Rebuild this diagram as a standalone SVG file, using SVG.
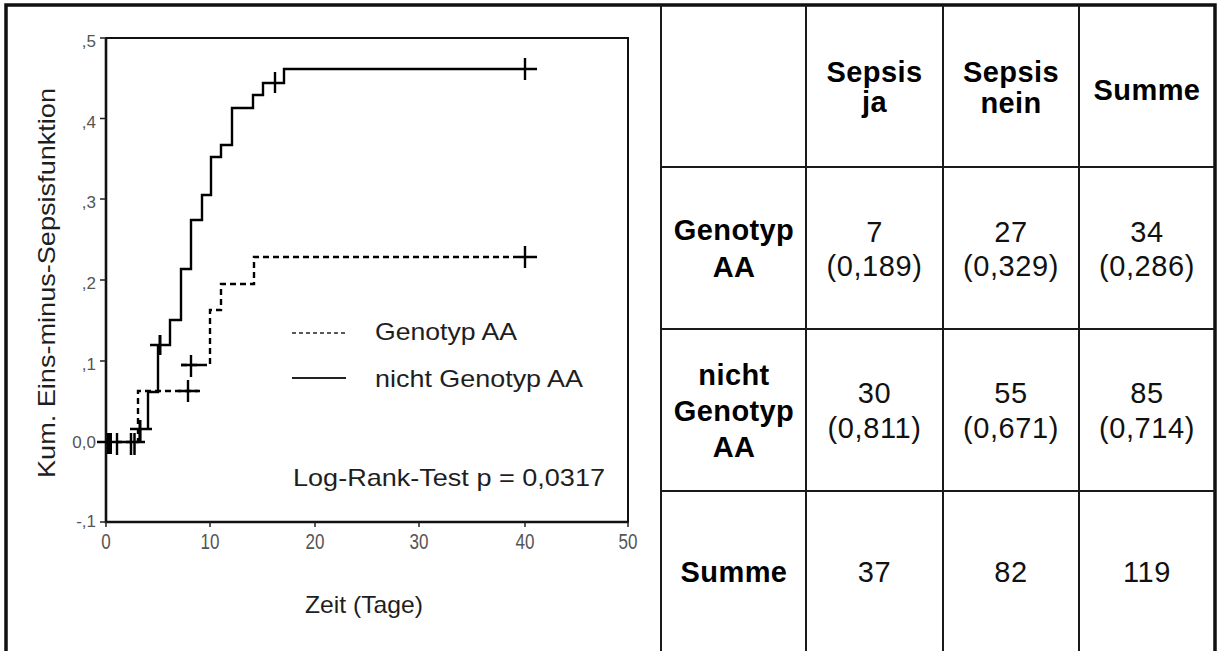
<svg xmlns="http://www.w3.org/2000/svg" width="1217" height="651" viewBox="0 0 1217 651">
<style>
  .plt { font-family: "Liberation Sans", Arial, sans-serif; fill: #1e1e1e; }
  .tick { font-family: "Liberation Sans", Arial, sans-serif; fill: #555; font-size: 17px; }
  .hd { font-family: "Liberation Sans", Arial, sans-serif; font-weight: bold; font-size: 29px; letter-spacing: 0.4px; fill: #000; text-anchor: middle; }
  .num { font-family: "Liberation Sans", Arial, sans-serif; font-size: 29px; letter-spacing: 0.6px; fill: #111; text-anchor: middle; }
  .grid { stroke: #1a1a1a; stroke-width: 2; fill: none; }
  .solid { stroke: #000; stroke-width: 2.4; fill: none; }
  .dash { stroke: #000; stroke-width: 2.4; fill: none; stroke-dasharray: 6 4; }
  .cens { stroke: #000; stroke-width: 2.4; fill: none; }
</style>
<rect width="1217" height="651" fill="#fff"/>

<g id="frame">
  <path d="M6,651 V5 H1215 V651" fill="none" stroke="#111" stroke-width="3.5"/>
</g>

<g id="plot">
  <rect x="106" y="38" width="522" height="484" fill="none" stroke="#111" stroke-width="2"/>
  <path d="M106,38 V522 H628" fill="none" stroke="#111" stroke-width="2.6"/>
  <g stroke="#222" stroke-width="1.5">
    <path d="M100,38 H106 M100,118.5 H106 M100,199 H106 M100,280 H106 M100,361 H106 M97,442 H106 M100,522 H106"/>
    <path d="M106,522 V527 M210,522 V527 M315,522 V527 M419,522 V527 M525,522 V527 M628,522 V527"/>
  </g>
  <g class="tick" text-anchor="end">
    <text x="96" y="47">,5</text>
    <text x="96" y="128">,4</text>
    <text x="96" y="208">,3</text>
    <text x="96" y="289">,2</text>
    <text x="96" y="370">,1</text>
    <text x="96" y="448">0,0</text>
    <text x="96" y="527">-,1</text>
  </g>
  <g class="tick" text-anchor="middle">
    <text transform="translate(106,549) scale(1,1.25)">0</text>
    <text transform="translate(210,549) scale(1,1.25)">10</text>
    <text transform="translate(315,549) scale(1,1.25)">20</text>
    <text transform="translate(419,549) scale(1,1.25)">30</text>
    <text transform="translate(525,549) scale(1,1.25)">40</text>
    <text transform="translate(628,549) scale(1,1.25)">50</text>
  </g>
  <text class="plt" font-size="24" text-anchor="middle" transform="translate(55,283) rotate(-90)" textLength="390" lengthAdjust="spacingAndGlyphs">Kum. Eins-minus-Sepsisfunktion</text>
  <text class="plt" font-size="24" x="305" y="613" textLength="118" lengthAdjust="spacingAndGlyphs">Zeit (Tage)</text>

  <g id="legend">
    <path d="M292,333 H346" stroke="#222" stroke-width="1.6" stroke-dasharray="4 3" fill="none"/>
    <path d="M292,378 H346" stroke="#222" stroke-width="1.8" fill="none"/>
    <text class="plt" font-size="24" x="375" y="340" textLength="142" lengthAdjust="spacingAndGlyphs">Genotyp AA</text>
    <text class="plt" font-size="24" x="375" y="387" textLength="208" lengthAdjust="spacingAndGlyphs">nicht Genotyp AA</text>
    <text class="plt" font-size="24" x="293" y="486" textLength="312" lengthAdjust="spacingAndGlyphs">Log-Rank-Test p = 0,0317</text>
  </g>
</g>

<g id="curves">
  <path class="solid" d="M97,442 H145 M130,429 H152 M150,345 H158 M140,442 V429 H148 V392 H158 V345 H170 V320 H181 V269 H191 V220 H202 V195 H211 V157 H221 V145 H232 V108 H253 V95 H263 V83 H284 V69 H537"/>
  <path class="dash" d="M106,442 H138 V391 H200 M181,365 H210 V310 H221 V284 H254 V257 H513"/>
  <path class="cens" d="M513,257 H537 M178,391 H198 M181,365 H201"/>
  <g class="cens">
    <rect x="107" y="433" width="5" height="21" fill="#000" stroke="none"/>
    <path d="M117,433 V455"/>
    <path d="M131,433 V455 M134.5,433 V455" stroke-width="2.5"/>
    <path d="M140,420 V441" stroke-width="3"/>
    <path d="M160,335 V355" stroke-width="3"/>
    <path d="M275,72 V93"/>
    <path d="M525,58 V80"/>
    <path d="M188,380 V402"/>
    <path d="M191,355 V377"/>
    <path d="M525,246 V268"/>
  </g>
</g>

<g id="table">
  <g class="grid">
    <path d="M661,5 V651 M806,5 V651 M943,5 V651 M1079,5 V651"/>
    <path d="M661,167 H1215 M661,329 H1215 M661,491 H1215"/>
  </g>
  <g id="cell-h1"><text class="hd" x="874.5" y="82">Sepsis</text><text class="hd" x="874.5" y="112">ja</text></g>
  <g id="cell-h2"><text class="hd" x="1011" y="82">Sepsis</text><text class="hd" x="1011" y="113">nein</text></g>
  <g id="cell-h3"><text class="hd" x="1147" y="100">Summe</text></g>
  <g id="cell-r1"><text class="hd" x="734" y="240">Genotyp</text><text class="hd" x="734" y="277">AA</text></g>
  <g id="cell-r1c1"><text class="num" x="874.5" y="242">7</text><text class="num" x="874.5" y="276">(0,189)</text></g>
  <g id="cell-r1c2"><text class="num" x="1011" y="242">27</text><text class="num" x="1011" y="276">(0,329)</text></g>
  <g id="cell-r1c3"><text class="num" x="1147" y="242">34</text><text class="num" x="1147" y="276">(0,286)</text></g>
  <g id="cell-r2"><text class="hd" x="734" y="385">nicht</text><text class="hd" x="734" y="421">Genotyp</text><text class="hd" x="734" y="457">AA</text></g>
  <g id="cell-r2c1"><text class="num" x="874.5" y="403">30</text><text class="num" x="874.5" y="438">(0,811)</text></g>
  <g id="cell-r2c2"><text class="num" x="1011" y="403">55</text><text class="num" x="1011" y="438">(0,671)</text></g>
  <g id="cell-r2c3"><text class="num" x="1147" y="403">85</text><text class="num" x="1147" y="438">(0,714)</text></g>
  <g id="cell-r3"><text class="hd" x="734" y="582">Summe</text></g>
  <g id="cell-r3c1"><text class="num" x="874.5" y="582">37</text></g>
  <g id="cell-r3c2"><text class="num" x="1011" y="582">82</text></g>
  <g id="cell-r3c3"><text class="num" x="1147" y="582">119</text></g>
</g>
</svg>
